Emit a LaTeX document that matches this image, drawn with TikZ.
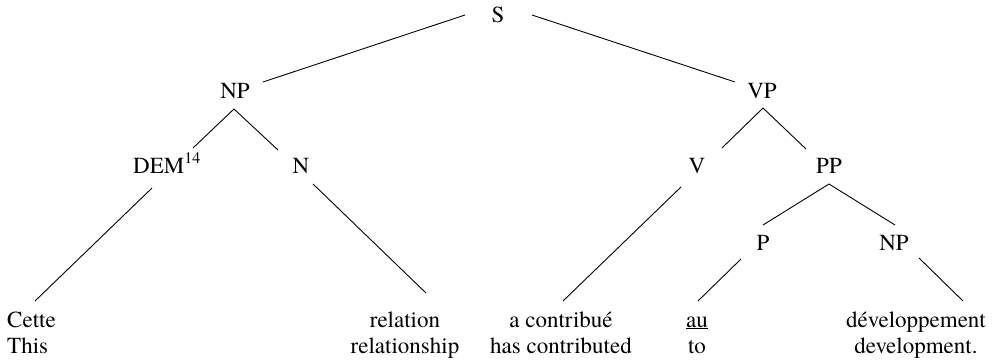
\documentclass[tikz,border=0pt]{standalone}
\usepackage{fontspec}
\setmainfont{texgyretermes}[Extension=.otf, UprightFont=*-regular,
  ItalicFont=*-italic, BoldFont=*-bold, BoldItalicFont=*-bolditalic]
\usetikzlibrary{positioning}
\tikzset{cat/.style = {anchor=base, inner sep=0pt},
         word/.style = {anchor=base, inner sep=0pt},
         branch/.style = {line width=0.9pt}}

\begin{document}
\begin{tikzpicture}[x=1pt, y=-1pt, font=\fontsize{23}{27}\selectfont]
    \useasboundingbox (0, 0) rectangle (1002, 362);
    % categories
    \node [cat] (s) at (498, 22) {S};
    \node [cat] (np) at (235, 98) {NP};
    \node [cat] (vp) at (762, 98) {VP};
    \node [cat] (dem) at (167, 173) {DEM\textsuperscript{14}};
    \node [cat] (n) at (301, 173) {N};
    \node [cat] (v) at (697, 173) {V};
    \node [cat] (pp) at (829, 173) {PP};
    \node [cat] (p) at (763, 250) {P};
    \node [cat] (np2) at (894, 250) {NP};
    % words, French over English
    \node [word, anchor=base west] (cette) at (7, 327) {Cette};
    \node [word, anchor=base west] (this) at (7, 353) {This};
    \node [word] (relation) at (405, 327) {relation};
    \node [word] (relationship) at (405, 353) {relationship};
    \node [word] (contribue) at (561, 327) {a contribué};
    \node [word] (contributed) at (561, 353) {has contributed};
    \node [word] (au) at (697, 327) {\underline{au}};
    \node [word] (to) at (697, 353) {to};
    \node [word] (dev) at (916, 327) {développement};
    \node [word] (devel) at (916, 353) {development.};
    % branches
    \draw [branch] ([shift={(-33, -7)}]s.base) -- ([shift={(28, -16)}]np.base);
    \draw [branch] ([shift={(34, -7)}]s.base) -- ([shift={(-27, -16)}]vp.base);
    \draw [branch] ([shift={(-1, 11)}]np.base) -- ([shift={(26, -25)}]dem.base);
    \draw [branch] ([shift={(-1, 11)}]np.base) -- ([shift={(-23, -23)}]n.base);
    \draw [branch] ([shift={(-15, 15)}]dem.base) -- ([shift={(28, -26)}]cette.base west);
    \draw [branch] ([shift={(12, 11)}]n.base) -- ([shift={(21, -34)}]relation.base);
    \draw [branch] ([shift={(1, 10)}]vp.base) -- ([shift={(25, -25)}]v.base);
    \draw [branch] ([shift={(1, 10)}]vp.base) -- ([shift={(-23, -24)}]pp.base);
    \draw [branch] ([shift={(-16, 14)}]v.base) -- ([shift={(2, -26)}]contribue.base);
    \draw [branch] ([shift={(0, 11)}]pp.base) -- ([shift={(0, -25)}]p.base);
    \draw [branch] ([shift={(0, 11)}]pp.base) -- ([shift={(1, -25)}]np2.base);
    \draw [branch] ([shift={(-22, 9)}]p.base) -- ([shift={(1, -26)}]au.base);
    \draw [branch] ([shift={(25, 8)}]np2.base) -- ([shift={(47, -26)}]dev.base);
\end{tikzpicture}
\end{document}
